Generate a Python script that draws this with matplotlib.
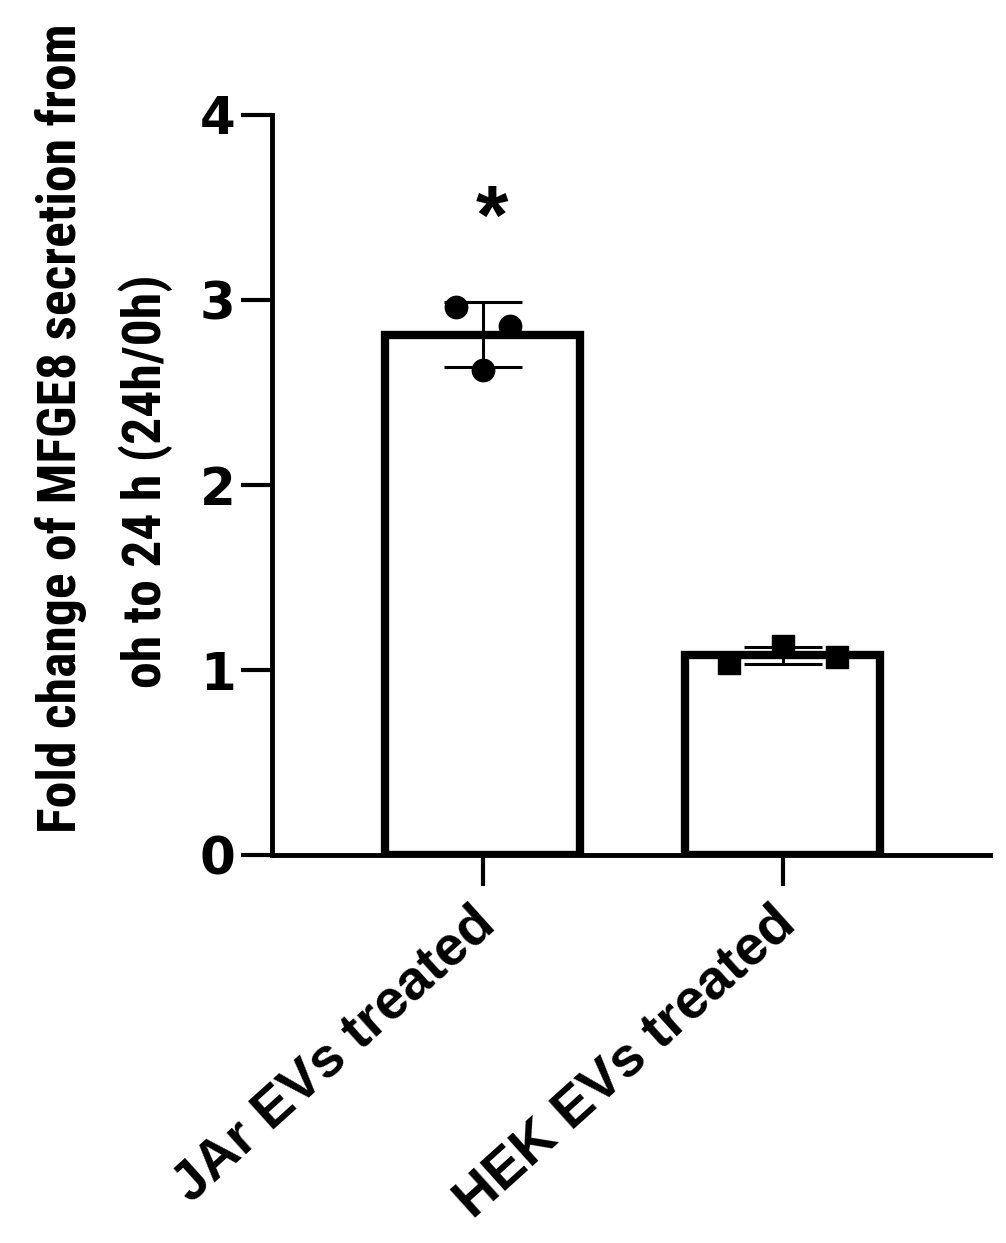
import matplotlib
matplotlib.use("Agg")
import matplotlib.pyplot as plt
from matplotlib import font_manager as fm
import matplotlib.transforms as mtransforms
import numpy as np

plt.rcParams['font.family'] = ['Liberation Sans', 'DejaVu Sans']
plt.rcParams['font.weight'] = 'bold'

categories = ["JAr EVs treated", "HEK EVs treated"]
jar_points = [2.96, 2.86, 2.62]
hek_points = [1.04, 1.13, 1.07]
means = [np.mean(jar_points), np.mean(hek_points)]
sds = [np.std(jar_points, ddof=1), np.std(hek_points, ddof=1)]
yticks = [0, 1, 2, 3, 4]
ylabel_lines = ["Fold change of MFGE8 secretion from", "oh to 24 h (24h/0h)"]


def pick_condensed():
    cands = [('Liberation Sans Narrow', 'normal'), ('Roboto Condensed', 'normal'),
             ('Open Sans Condensed', 'normal'), ('Noto Sans', 'condensed'),
             ('DejaVu Sans', 'condensed'), ('Open Sans', 'condensed'),
             ('Noto Sans Condensed', 'normal'), ('DejaVu Sans Condensed', 'normal')]
    for fam, st in cands:
        try:
            path = fm.findfont(fm.FontProperties(family=fam, weight='bold', stretch=st),
                               fallback_to_default=False)
        except Exception:
            continue
        low = path.lower()
        if 'narrow' in low or 'condensed' in low:
            return fam, st
    return 'Liberation Sans', 'normal'


cfam, cstretch = pick_condensed()

fig = plt.figure(figsize=(10.06, 12.43), dpi=100)
ax = fig.add_axes([0.270, 0.312, 0.714, 0.5955])

x = np.arange(len(categories))
ax.bar(x, means, width=0.65, facecolor='white', edgecolor='black', linewidth=6, zorder=2)
ax.errorbar(x, means, yerr=sds, fmt='none', ecolor='black', elinewidth=2.2,
            capsize=28, capthick=2.2, zorder=3)
ax.scatter(x[0] + np.array([-0.09, 0.09, 0.0]), jar_points, marker='o', s=260,
           color='black', zorder=4)
ax.scatter(x[1] + np.array([-0.18, 0.0, 0.18]), hek_points, marker='s', s=260,
           color='black', zorder=4)

ax.text(x[0] + 0.03, 3.42, "*", ha='center', va='center',
        fontsize=60, fontweight='bold', family=['Liberation Sans'])

ax.set_xlim(-0.703, 1.69)
ax.set_ylim(0, 4)
ax.set_yticks(yticks)
ax.set_yticklabels([str(t) for t in yticks], fontsize=37, fontweight='bold',
                   family=['DejaVu Sans'])
ax.set_xticks(x)
ax.set_xticklabels([])
off = mtransforms.ScaledTranslation(-12 / 100, -42 / 100, fig.dpi_scale_trans)
for xi, cat in zip(x, categories):
    ax.text(xi, 0, cat, transform=ax.get_xaxis_transform() + off,
            rotation=42, ha='right', va='top', rotation_mode='anchor',
            fontsize=40, fontweight='bold', family=['Liberation Sans'])
ax.tick_params(axis='y', length=22, width=3, pad=4)
ax.tick_params(axis='x', length=22, width=3)
for s in ['top', 'right']:
    ax.spines[s].set_visible(False)
for s in ['left', 'bottom']:
    ax.spines[s].set_linewidth(3.5)

W, H = 1006, 1243
t1 = fig.text(61 / W, 1 - 428 / H, ylabel_lines[0], rotation=90, ha='center', va='center',
              fontsize=40, fontweight='bold', family=[cfam], fontstretch=cstretch)
t2 = fig.text(146 / W, 1 - 481 / H, ylabel_lines[1], rotation=90, ha='center', va='center',
              fontsize=40, fontweight='bold', family=[cfam], fontstretch=cstretch)
fig.canvas.draw()
r = fig.canvas.get_renderer()
h1 = t1.get_window_extent(r).height
scale = 808.0 / h1
t1.set_fontsize(40 * scale)
t2.set_fontsize(40 * scale)

fig.savefig("out.png", dpi=100)
